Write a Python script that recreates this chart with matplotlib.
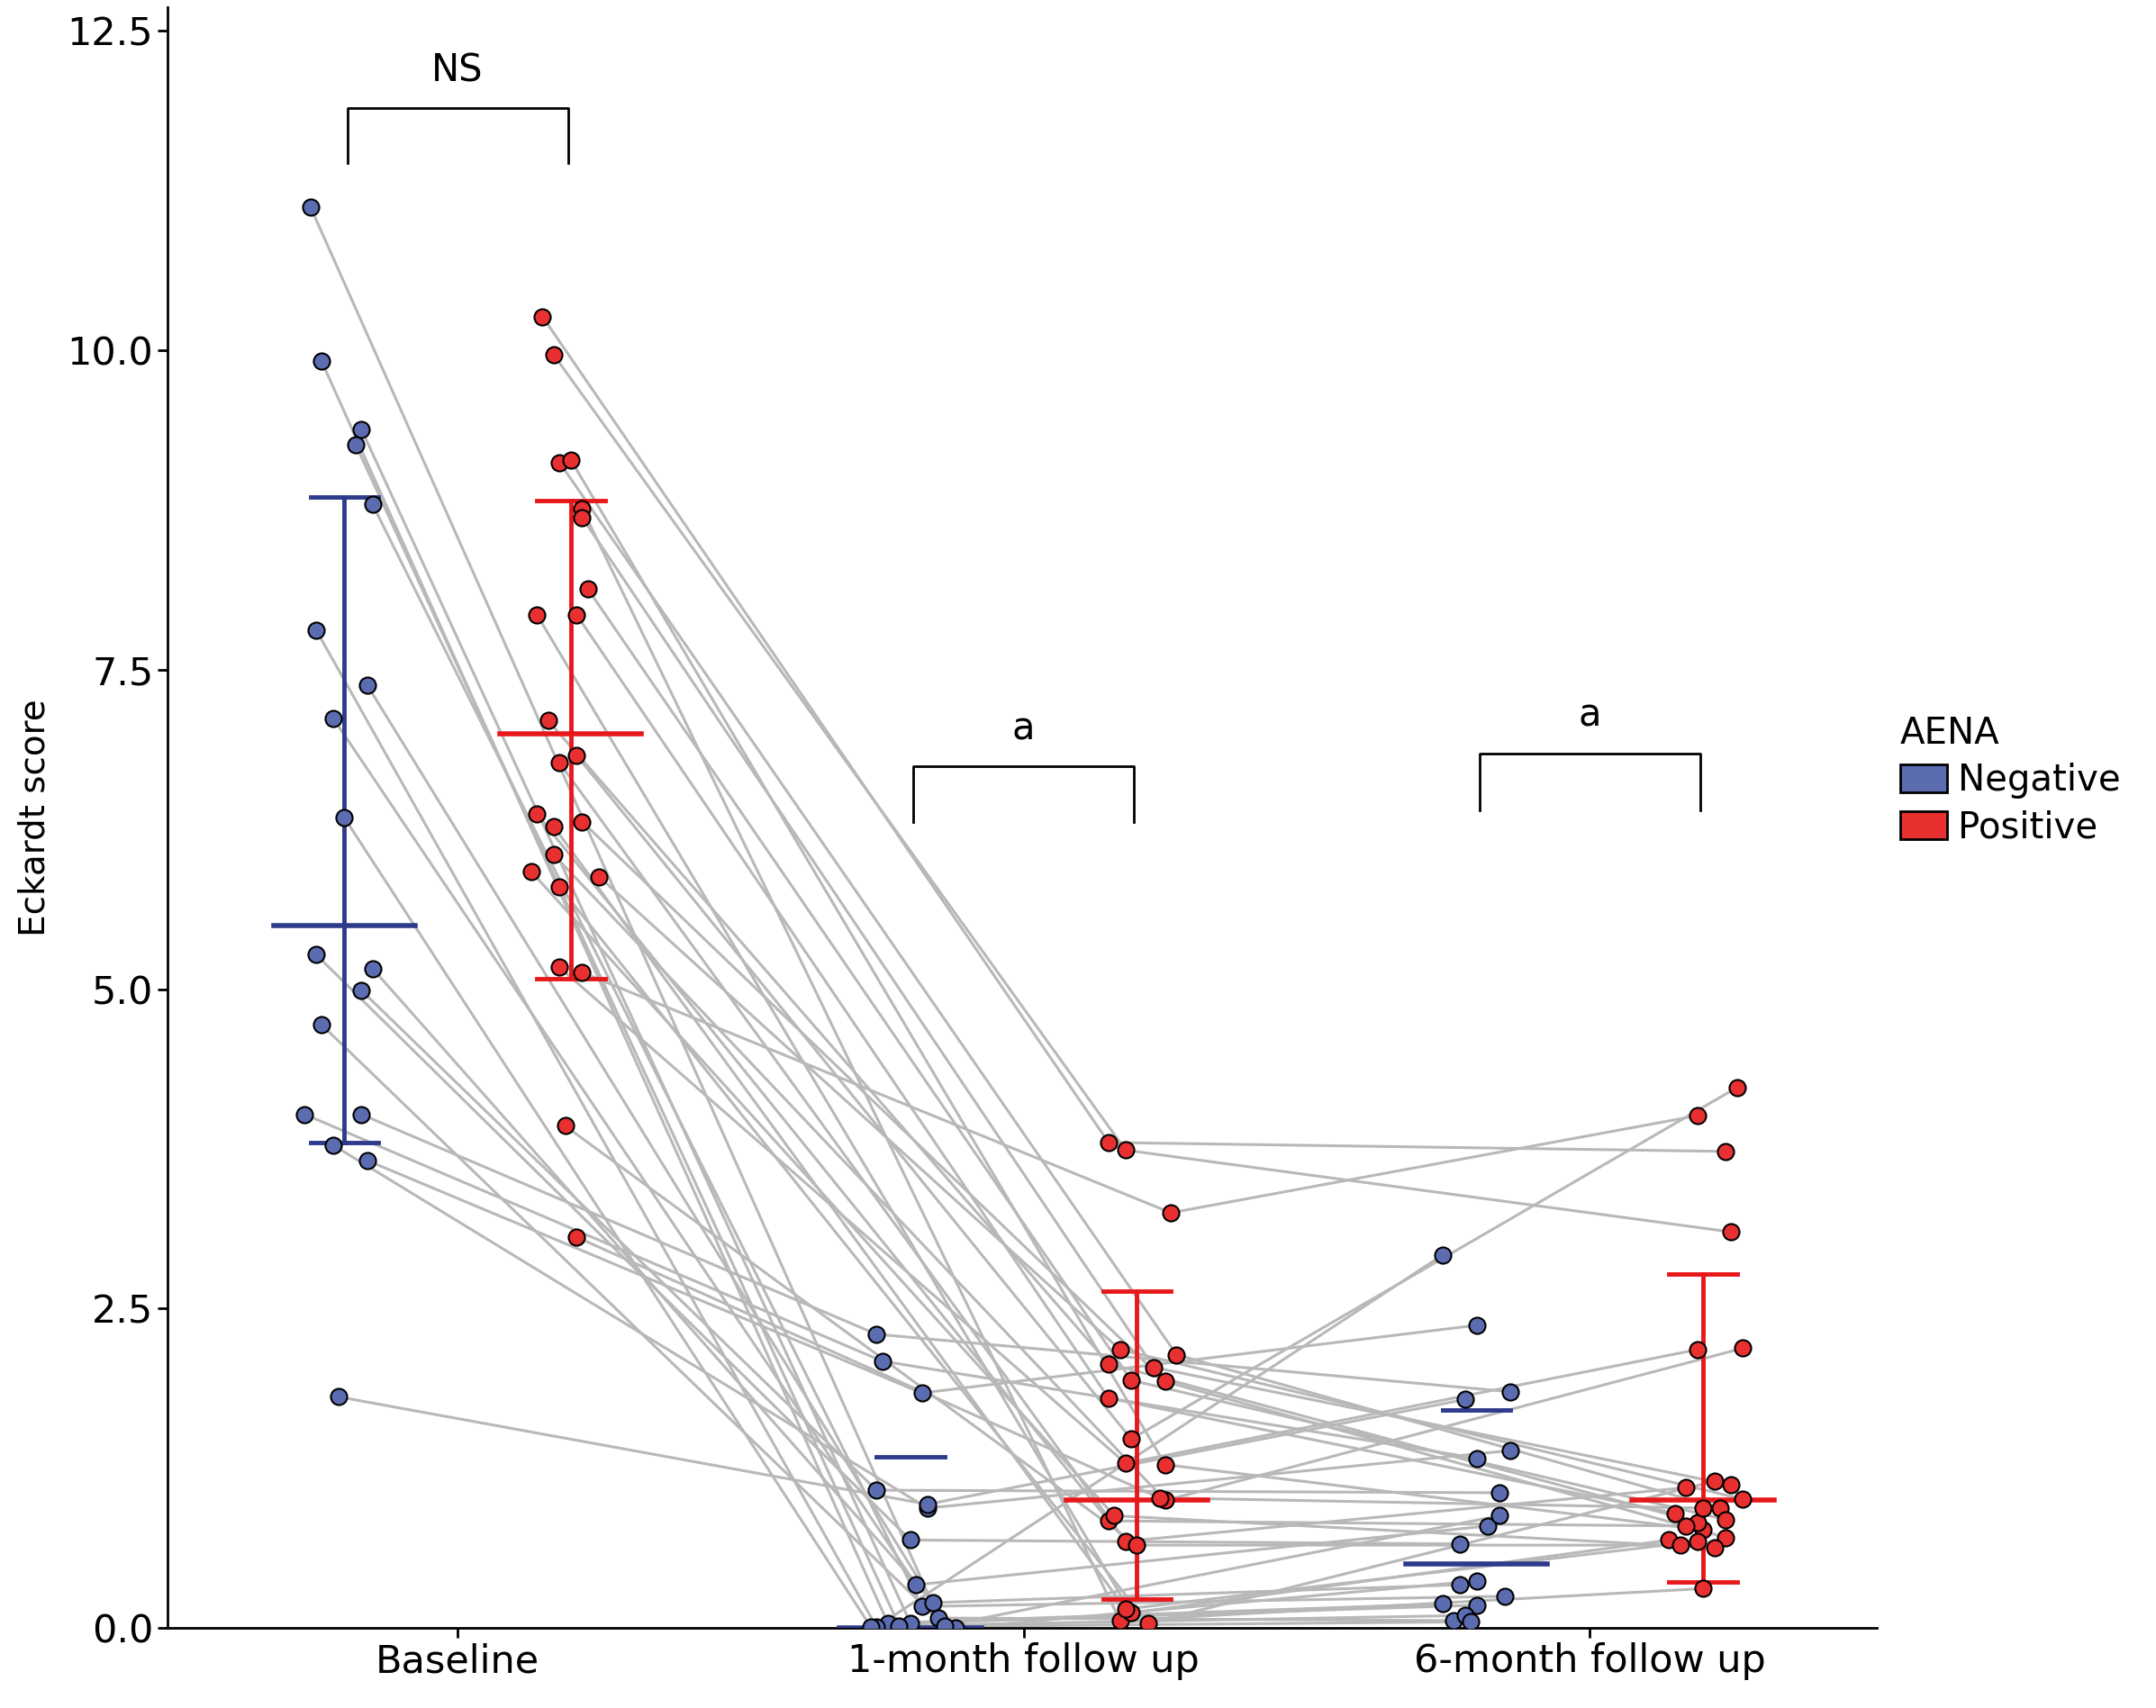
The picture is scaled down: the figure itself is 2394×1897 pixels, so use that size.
import matplotlib
matplotlib.use("Agg")
import matplotlib.pyplot as plt
from matplotlib.patches import Patch

categories = ["Baseline", "1-month follow up", "6-month follow up"]
groups = ["Negative", "Positive"]

# Negative group, per patient (same index = same patient)
neg_base = [11.12, 9.91, 9.38, 9.26, 8.79, 7.81, 7.38, 7.12, 6.34, 5.27, 5.16, 4.99, 4.72, 4.02, 4.02, 3.78, 3.66, 1.81]
neg_base_jit = [-0.26, -0.24, -0.17, -0.18, -0.15, -0.25, -0.16, -0.22, -0.20, -0.25, -0.15, -0.17, -0.24, -0.27, -0.17, -0.22, -0.16, -0.21]
neg_m1 = [0.08, 0.04, 0.04, 0.02, 0.17, 0.01, 0.20, 0.34, 0.01, 0.69, 0.00, 1.08, 0.02, 2.09, 2.30, 0.94, 1.84, 0.97]
neg_m1_jit = [-0.15, -0.24, -0.20, -0.22, -0.18, -0.26, -0.16, -0.19, -0.27, -0.20, -0.12, -0.26, -0.14, -0.25, -0.26, -0.17, -0.18, -0.17]
neg_m6 = [0.06, 0.19, 0.18, 0.10, 0.25, 2.92, 0.34, 0.80, 0.05, 0.66, 0.37, 1.06, 0.88, 1.33, 1.85, 1.39, 2.37, 1.79]
neg_m6_jit = [-0.24, -0.26, -0.20, -0.22, -0.15, -0.26, -0.23, -0.18, -0.21, -0.23, -0.20, -0.16, -0.16, -0.20, -0.14, -0.14, -0.20, -0.22]

pos_base = [10.26, 9.96, 9.12, 9.14, 8.76, 8.69, 8.13, 7.93, 7.93, 7.10, 6.77, 6.83, 6.37, 6.31, 6.27, 6.05, 5.92, 5.88, 5.80, 5.17, 5.13, 3.93, 3.06]
pos_base_jit = [0.15, 0.17, 0.18, 0.20, 0.22, 0.22, 0.23, 0.14, 0.21, 0.16, 0.18, 0.21, 0.14, 0.22, 0.17, 0.17, 0.13, 0.25, 0.18, 0.18, 0.22, 0.19, 0.21]
pos_m1 = [3.80, 3.74, 2.14, 1.28, 0.06, 2.04, 1.94, 0.12, 1.80, 2.07, 0.68, 1.48, 0.84, 1.93, 0.15, 1.00, 0.88, 2.18, 0.04, 1.29, 3.25, 0.65, 1.02]
pos_m1_jit = [0.15, 0.18, 0.27, 0.25, 0.17, 0.23, 0.19, 0.19, 0.15, 0.15, 0.18, 0.19, 0.15, 0.25, 0.18, 0.25, 0.16, 0.17, 0.22, 0.18, 0.26, 0.20, 0.24]
pos_m6 = [3.73, 3.10, 0.94, 0.77, 0.31, 1.12, 0.85, 0.69, 0.90, 0.83, 1.10, 4.23, 0.80, 0.71, 0.68, 2.19, 0.63, 1.01, 1.15, 2.18, 4.01, 0.65, 0.94]
pos_m6_jit = [0.24, 0.25, 0.23, 0.20, 0.20, 0.25, 0.24, 0.14, 0.15, 0.19, 0.17, 0.26, 0.17, 0.24, 0.19, 0.27, 0.22, 0.27, 0.22, 0.19, 0.19, 0.16, 0.20]

# summary bars (center, low, high) per time point
neg_center = [5.50, 0.00, 0.50]
neg_low = [3.80, 0.00, 0.50]
neg_high = [8.85, 1.34, 1.71]
neg_show_stem = [True, False, False]
pos_center = [7.00, 1.00, 1.00]
pos_low = [5.08, 0.23, 0.36]
pos_high = [8.82, 2.64, 2.77]
pos_show_stem = [True, True, True]

sig_labels = ["NS", "a", "a"]
sig_top = [11.89, 6.74, 6.84]
sig_bottom = [11.46, 6.31, 6.40]

BLUE_LINE = "#2e3b8c"; BLUE_FILL = "#5b6db0"
RED_LINE = "#e8171a"; RED_FILL = "#e83030"
GRAY = "#b8b8b8"

fig = plt.figure(figsize=(23.94, 18.97), dpi=100)
ax = fig.add_axes([0.0778, 0.0467, 0.7927, 0.949])

xpos = [1, 2, 3]
for base, m1, m6, jb, j1, j6 in [(neg_base, neg_m1, neg_m6, neg_base_jit, neg_m1_jit, neg_m6_jit),
                                  (pos_base, pos_m1, pos_m6, pos_base_jit, pos_m1_jit, pos_m6_jit)]:
    for i in range(len(base)):
        xs = [1 + jb[i], 2 + j1[i], 3 + j6[i]]
        ys = [base[i], m1[i], m6[i]]
        ax.plot(xs, ys, color=GRAY, lw=2.2, zorder=1)

def bars(center, low, high, stem, off, col):
    for k in range(3):
        x = xpos[k] + off
        if stem[k]:
            ax.plot([x, x], [low[k], high[k]], color=col, lw=3.5, zorder=3)
            ax.plot([x - 0.06, x + 0.06], [low[k]] * 2, color=col, lw=3.5, zorder=3)
        ax.plot([x - 0.06, x + 0.06], [high[k]] * 2, color=col, lw=3.5, zorder=3)
        ax.plot([x - 0.125, x + 0.125], [center[k]] * 2, color=col, lw=4, zorder=3)

bars(neg_center, neg_low, neg_high, neg_show_stem, -0.2, BLUE_LINE)
bars(pos_center, pos_low, pos_high, pos_show_stem, 0.2, RED_LINE)

for vals, jit, k in [(neg_base, neg_base_jit, 1), (neg_m1, neg_m1_jit, 2), (neg_m6, neg_m6_jit, 3)]:
    ax.scatter([k + j for j in jit], vals, s=170, color=BLUE_FILL, edgecolor="black", lw=1.5, zorder=4)
for vals, jit, k in [(pos_base, pos_base_jit, 1), (pos_m1, pos_m1_jit, 2), (pos_m6, pos_m6_jit, 3)]:
    ax.scatter([k + j for j in jit], vals, s=170, color=RED_FILL, edgecolor="black", lw=1.5, zorder=4)

for k in range(3):
    x0, x1 = xpos[k] - 0.195, xpos[k] + 0.195
    ax.plot([x0, x0, x1, x1], [sig_bottom[k], sig_top[k], sig_top[k], sig_bottom[k]], color="black", lw=2)
    ax.text(xpos[k], sig_top[k] + 0.15, sig_labels[k], ha="center", va="bottom", fontsize=30)

ax.set_xlim(0.488, 3.507)
ax.set_ylim(0, 12.68)
ax.set_xticks(xpos)
ax.set_xticklabels(categories, fontsize=31)
ax.set_yticks([0, 2.5, 5, 7.5, 10, 12.5])
ax.set_yticklabels(["0.0", "2.5", "5.0", "7.5", "10.0", "12.5"], fontsize=31)
ax.tick_params(width=2, length=8)
for s in ["top", "right"]:
    ax.spines[s].set_visible(False)
for s in ["left", "bottom"]:
    ax.spines[s].set_linewidth(2)
ax.set_ylabel("Eckardt score", fontsize=28, labelpad=12)

handles = [Patch(facecolor=BLUE_FILL, edgecolor="black", lw=2, label="Negative"),
           Patch(facecolor=RED_FILL, edgecolor="black", lw=2, label="Positive")]
leg = fig.legend(handles=handles, title="AENA", loc="upper left", bbox_to_anchor=(0.878, 0.585),
                 frameon=False, fontsize=29, title_fontsize=29, handlelength=1.3, handleheight=0.8,
                 handletextpad=0.3, labelspacing=0.3, borderaxespad=0, borderpad=0.2)
leg._legend_box.align = "left"

fig.savefig("out.png", dpi=100)
